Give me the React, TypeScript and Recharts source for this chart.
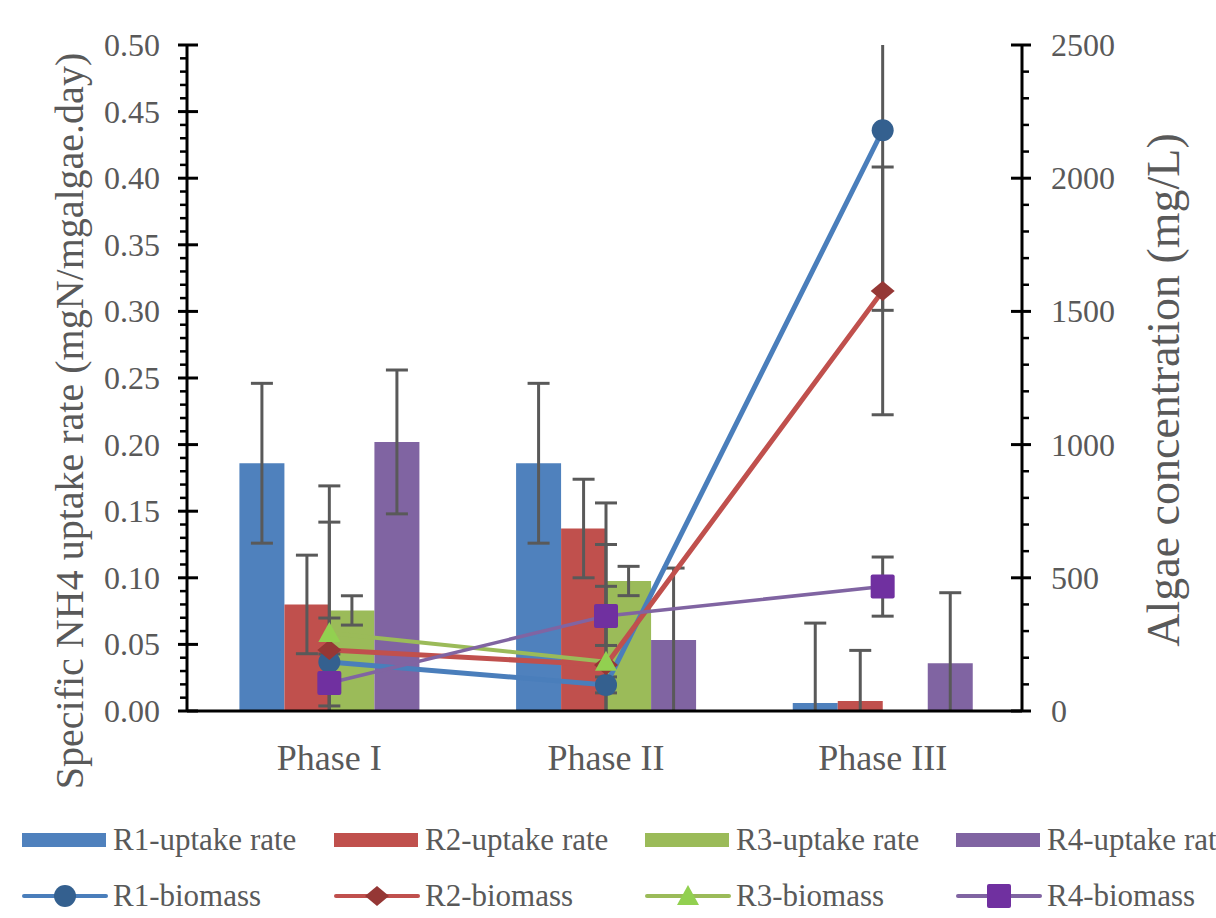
import React from "react";
import { ComposedChart, Bar, Line, XAxis, YAxis, ErrorBar, Label } from "recharts";

const phases = ["Phase I", "Phase II", "Phase III"];

// uptake rate (mgN/mgalgae.day), left axis
const r1Rate = [0.186, 0.186, 0.006];
const r1RateErr = [0.06, 0.06, 0.06];
const r2Rate = [0.08, 0.137, 0.0075];
const r2RateErr = [0.037, 0.037, 0.038];
const r3Rate = [0.0755, 0.0976, null];
const r3RateErr = [0.011, 0.011, null];
const r4Rate = [0.202, 0.0533, 0.0358];
const r4RateErr = [0.054, 0.054, 0.053];

// biomass (mg/L), right axis
const r1Bio = [184, 98, 2180];
const r1BioErr = [165, 30, 676];
const r2Bio = [229, 173, 1577];
const r2BioErr = [480, 608, 465];
const r3Bio = [293, 185, null];
const r3BioErr = [552, 440, null];
const r4Bio = [105, 357, 467];
const r4BioErr = [109, 111, 111];

const leftTicks = [
  0, 0.01, 0.02, 0.03, 0.04, 0.05, 0.06, 0.07, 0.08, 0.09, 0.1, 0.11, 0.12, 0.13, 0.14, 0.15, 0.16,
  0.17, 0.18, 0.19, 0.2, 0.21, 0.22, 0.23, 0.24, 0.25, 0.26, 0.27, 0.28, 0.29, 0.3, 0.31, 0.32, 0.33,
  0.34, 0.35, 0.36, 0.37, 0.38, 0.39, 0.4, 0.41, 0.42, 0.43, 0.44, 0.45, 0.46, 0.47, 0.48, 0.49, 0.5,
];
const rightTicks = [
  0, 100, 200, 300, 400, 500, 600, 700, 800, 900, 1000, 1100, 1200, 1300, 1400, 1500, 1600, 1700,
  1800, 1900, 2000, 2100, 2200, 2300, 2400, 2500,
];

const legendNames = [
  "R1-uptake rate", "R2-uptake rate", "R3-uptake rate", "R4-uptake rate",
  "R1-biomass", "R2-biomass", "R3-biomass", "R4-biomass",
];

const data = phases.map((phase, i) => ({
  phase,
  r1Rate: r1Rate[i], r1RateErr: r1RateErr[i],
  r2Rate: r2Rate[i], r2RateErr: r2RateErr[i],
  r3Rate: r3Rate[i], r3RateErr: r3RateErr[i],
  r4Rate: r4Rate[i], r4RateErr: r4RateErr[i],
  r1Bio: r1Bio[i], r1BioErr: r1BioErr[i],
  r2Bio: r2Bio[i], r2BioErr: r2BioErr[i],
  r3Bio: r3Bio[i], r3BioErr: r3BioErr[i],
  r4Bio: r4Bio[i], r4BioErr: r4BioErr[i],
}));

const GRAY = "#595959";
const FONT = "'Liberation Serif', 'Times New Roman', serif";
const BAR_COLORS = ["#4F81BD", "#C0504D", "#9BBB59", "#8064A2"];
const LINE_COLORS = ["#4A7EBB", "#C0504D", "#9BBB59", "#8064A2"];
const LINE_WIDTHS = [5, 5, 4, 3.5];
const MARK_COLORS = ["#34608F", "#953735", "#92D050", "#7030A0"];

function marker(kind: number, cx: number, cy: number) {
  if (kind === 0) return <circle cx={cx} cy={cy} r={11} fill={MARK_COLORS[0]} />;
  if (kind === 1)
    return (
      <polygon
        points={`${cx - 12},${cy} ${cx},${cy - 10} ${cx + 12},${cy} ${cx},${cy + 10}`}
        fill={MARK_COLORS[1]}
      />
    );
  if (kind === 2)
    return (
      <polygon
        points={`${cx - 11},${cy + 9} ${cx},${cy - 11} ${cx + 11},${cy + 9}`}
        fill={MARK_COLORS[2]}
      />
    );
  return <rect x={cx - 12} y={cy - 12} width={24} height={24} rx={2} fill={MARK_COLORS[3]} />;
}

const makeDot = (kind: number) => (props: any) => {
  const { cx, cy, index } = props;
  if (cx == null || cy == null || props.value == null) return <g key={`d${kind}-${index}`} />;
  return <g key={`d${kind}-${index}`}>{marker(kind, cx, cy)}</g>;
};

function LeftTick(props: any) {
  const { x, y, payload } = props;
  const v = payload.value as number;
  const major = Math.round(v * 100) % 5 === 0;
  if (!major) return <line x1={x - 7} x2={x} y1={y} y2={y} stroke="#000" strokeWidth={2.5} />;
  return (
    <g>
      <line x1={x - 9} x2={x + 11} y1={y} y2={y} stroke="#000" strokeWidth={3} />
      <text x={x - 27} y={y} textAnchor="end" dominantBaseline="central" fill={GRAY} fontSize={32} fontFamily={FONT}>
        {v.toFixed(2)}
      </text>
    </g>
  );
}

function RightTick(props: any) {
  const { x, y, payload } = props;
  const v = payload.value as number;
  const major = v % 500 === 0;
  if (!major) return <line x1={x} x2={x + 7} y1={y} y2={y} stroke="#000" strokeWidth={2.5} />;
  return (
    <g>
      <line x1={x - 11} x2={x + 9} y1={y} y2={y} stroke="#000" strokeWidth={3} />
      <text x={x + 29} y={y} textAnchor="start" dominantBaseline="central" fill={GRAY} fontSize={32} fontFamily={FONT}>
        {v}
      </text>
    </g>
  );
}

function PhaseTick(props: any) {
  const { x, y, payload } = props;
  return (
    <text x={x} y={y + 59} textAnchor="middle" fill={GRAY} fontSize={36} fontFamily={FONT}>
      {payload.value}
    </text>
  );
}

const leftTitle = () => (
  <text
    transform="translate(69,421) rotate(-90)"
    textAnchor="middle"
    dominantBaseline="central"
    fill={GRAY}
    fontSize={40}
    fontFamily={FONT}
  >
    Specific NH4 uptake rate (mgN/mgalgae.day)
  </text>
);

const rightTitle = () => (
  <text
    transform="translate(1163,390) rotate(-90)"
    textAnchor="middle"
    dominantBaseline="central"
    fill={GRAY}
    fontSize={46}
    fontFamily={FONT}
  >
    Algae concentration (mg/L)
  </text>
);

function LegendIcon({ idx }: { idx: number }) {
  const series = idx % 4;
  if (idx < 4) {
    return (
      <svg width={84} height={30} style={{ display: "block" }}>
        <rect x={0} y={8} width={84} height={14} fill={BAR_COLORS[series]} />
      </svg>
    );
  }
  return (
    <svg width={86} height={30} style={{ display: "block" }}>
      <line x1={2} x2={84} y1={15} y2={15} stroke={LINE_COLORS[series]} strokeWidth={4} strokeLinecap="round" />
      {marker(series, 43, 15)}
    </svg>
  );
}

const legendCols = [22, 334, 645, 956];
const legendRows = [840, 896];

export default function App() {
  return (
    <div style={{ position: "absolute", left: 0, top: 0, width: 1216, height: 918, overflow: "hidden", background: "#fff" }}>
      {/* error bars are cut at the plot's top and bottom edges, like the original */}
      <style>{`.recharts-errorBar { clip-path: url(#plotClip); }`}</style>
      <svg width={0} height={0} style={{ position: "absolute" }}>
        <defs>
          <clipPath id="plotClip" clipPathUnits="userSpaceOnUse">
            <rect x={0} y={45} width={1216} height={666} />
          </clipPath>
        </defs>
      </svg>
      <ComposedChart width={1216} height={918} data={data} margin={{ top: 45, right: 0, bottom: 0, left: 0 }} barCategoryGap="17.5%" barGap={0}>
        <XAxis
          dataKey="phase"
          height={207}
          padding={{ left: 4, right: 1 }}
          axisLine={{ stroke: "#000", strokeWidth: 3 }}
          tickLine={false}
          tickSize={0}
          tickMargin={0}
          tick={<PhaseTick />}
        />
        <XAxis
          xAxisId="top"
          dataKey="phase"
          orientation="top"
          height={0}
          axisLine={{ stroke: "#000", strokeWidth: 3 }}
          tickLine={false}
          tick={false}
        />
        <YAxis
          yAxisId="left"
          width={187}
          domain={[0, 0.5]}
          allowDataOverflow
          ticks={leftTicks}
          interval={0}
          axisLine={{ stroke: "#000", strokeWidth: 3 }}
          tickLine={false}
          tickSize={0}
          tickMargin={0}
          tick={<LeftTick />}
        >
          <Label content={leftTitle} />
        </YAxis>
        <YAxis
          yAxisId="right"
          orientation="right"
          width={194}
          domain={[0, 2500]}
          allowDataOverflow
          ticks={rightTicks}
          interval={0}
          axisLine={{ stroke: "#000", strokeWidth: 3 }}
          tickLine={false}
          tickSize={0}
          tickMargin={0}
          tick={<RightTick />}
        >
          <Label content={rightTitle} />
        </YAxis>

        <Bar yAxisId="left" dataKey="r1Rate" fill={BAR_COLORS[0]} isAnimationActive={false}>
          <ErrorBar dataKey="r1RateErr" width={11} stroke={GRAY} strokeWidth={3} direction="y" />
        </Bar>
        <Bar yAxisId="left" dataKey="r2Rate" fill={BAR_COLORS[1]} isAnimationActive={false}>
          <ErrorBar dataKey="r2RateErr" width={11} stroke={GRAY} strokeWidth={3} direction="y" />
        </Bar>
        <Bar yAxisId="left" dataKey="r3Rate" fill={BAR_COLORS[2]} isAnimationActive={false}>
          <ErrorBar dataKey="r3RateErr" width={11} stroke={GRAY} strokeWidth={3} direction="y" />
        </Bar>
        <Bar yAxisId="left" dataKey="r4Rate" fill={BAR_COLORS[3]} isAnimationActive={false}>
          <ErrorBar dataKey="r4RateErr" width={11} stroke={GRAY} strokeWidth={3} direction="y" />
        </Bar>

        <Line yAxisId="right" dataKey="r1Bio" stroke={LINE_COLORS[0]} strokeWidth={LINE_WIDTHS[0]} dot={makeDot(0)} activeDot={false} isAnimationActive={false}>
          <ErrorBar dataKey="r1BioErr" width={11} stroke={GRAY} strokeWidth={3} direction="y" />
        </Line>
        <Line yAxisId="right" dataKey="r2Bio" stroke={LINE_COLORS[1]} strokeWidth={LINE_WIDTHS[1]} dot={makeDot(1)} activeDot={false} isAnimationActive={false}>
          <ErrorBar dataKey="r2BioErr" width={11} stroke={GRAY} strokeWidth={3} direction="y" />
        </Line>
        <Line yAxisId="right" dataKey="r3Bio" stroke={LINE_COLORS[2]} strokeWidth={LINE_WIDTHS[2]} dot={makeDot(2)} activeDot={false} isAnimationActive={false}>
          <ErrorBar dataKey="r3BioErr" width={11} stroke={GRAY} strokeWidth={3} direction="y" />
        </Line>
        <Line yAxisId="right" dataKey="r4Bio" stroke={LINE_COLORS[3]} strokeWidth={LINE_WIDTHS[3]} dot={makeDot(3)} activeDot={false} isAnimationActive={false}>
          <ErrorBar dataKey="r4BioErr" width={11} stroke={GRAY} strokeWidth={3} direction="y" />
        </Line>
      </ComposedChart>

      {legendNames.map((name, i) => (
        <div
          key={name}
          style={{
            position: "absolute",
            left: legendCols[i % 4],
            top: legendRows[Math.floor(i / 4)] - 15,
            height: 30,
            display: "flex",
            alignItems: "center",
            whiteSpace: "nowrap",
          }}
        >
          <LegendIcon idx={i} />
          <span style={{ marginLeft: i < 4 ? 7 : 5, color: GRAY, fontSize: 31, fontFamily: FONT, lineHeight: "30px" }}>
            {name}
          </span>
        </div>
      ))}
    </div>
  );
}
